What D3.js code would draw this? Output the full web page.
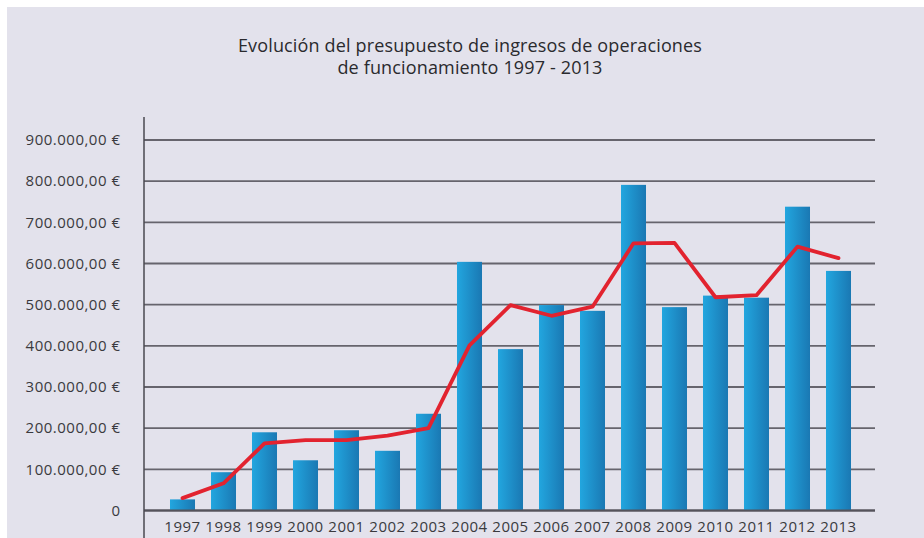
<!DOCTYPE html>
<html>
<head>
<meta charset="utf-8">
<script src="https://cdn.jsdelivr.net/npm/d3@7/dist/d3.min.js"></script>
<style>
  html, body { margin: 0; padding: 0; background: #ffffff; }
  svg { display: block; }
</style>
</head>
<body>
<svg id="chart" width="924" height="538"></svg>
<script>
const years = ["1997","1998","1999","2000","2001","2002","2003","2004","2005","2006","2007","2008","2009","2010","2011","2012","2013"];
const barValues = [27000, 93000, 190000, 122000, 195000, 145000, 235000, 604000, 392000, 499000, 485000, 791000, 494000, 522000, 517000, 738000, 582000];
const lineValues = [30000, 66000, 163000, 171000, 171000, 182000, 200000, 401000, 499000, 473000, 495000, 649000, 650000, 518000, 523000, 641000, 613000];
const yTicks = [0, 100000, 200000, 300000, 400000, 500000, 600000, 700000, 800000, 900000];
const titleLines = ["Evolución del presupuesto de ingresos de operaciones", "de funcionamiento 1997 - 2013"];

const svg = d3.select("#chart");
const W = 924, H = 538;
const FONT = "'Open Sans', Lato, sans-serif";

// panel background
svg.append("rect").attr("x", 7).attr("y", 7).attr("width", W - 7).attr("height", H - 7).attr("fill", "#e3e2ec");

const defs = svg.append("defs");
const grad = defs.append("linearGradient").attr("id", "barGrad").attr("x1", "0%").attr("x2", "100%").attr("y1", "0%").attr("y2", "0%");
grad.append("stop").attr("offset", "0%").attr("stop-color", "#22a6df");
grad.append("stop").attr("offset", "100%").attr("stop-color", "#1a78b3");

const axisX = 144;
const gridRight = 875;
const y = d3.scaleLinear().domain([0, 900000]).range([510.5, 140]);
const x = d3.scaleBand().domain(years).range([162, 859]).paddingInner(0.39).paddingOuter(0.195);

// gridlines
svg.append("g").selectAll("line").data(yTicks).join("line")
  .attr("x1", axisX).attr("x2", gridRight)
  .attr("y1", d => y(d)).attr("y2", d => y(d))
  .attr("stroke", "#66646d").attr("stroke-width", 1.8);

// y labels
const fmt = d => d === 0 ? "0" : d3.format(",.2f")(d).replace(/,/g, "#").replace(/\./g, ",").replace(/#/g, ".") + " €";
svg.append("g").selectAll("text").data(yTicks).join("text")
  .attr("x", 120.5).attr("y", d => y(d)).attr("dy", "0.35em")
  .attr("text-anchor", "end")
  .attr("font-family", FONT).attr("font-size", 15).attr("letter-spacing", 0.5)
  .attr("fill", "#3a3a3e")
  .text(fmt);

// bars
svg.append("g").selectAll("rect").data(years).join("rect")
  .attr("x", d => x(d)).attr("width", x.bandwidth())
  .attr("y", (d, i) => y(barValues[i]))
  .attr("height", (d, i) => y(0) - y(barValues[i]))
  .attr("fill", "url(#barGrad)");

// redraw zero line over bars
svg.append("line").attr("x1", axisX).attr("x2", gridRight).attr("y1", y(0)).attr("y2", y(0))
  .attr("stroke", "#55535b").attr("stroke-width", 1.8);

// vertical axis
svg.append("line").attr("x1", axisX).attr("x2", axisX).attr("y1", 117).attr("y2", 538)
  .attr("stroke", "#4a4850").attr("stroke-width", 1.5);

// line
const line = d3.line().x((d, i) => x(years[i]) + x.bandwidth() / 2).y(d => y(d));
svg.append("path").datum(lineValues).attr("d", line)
  .attr("fill", "none").attr("stroke", "#e2232f").attr("stroke-width", 3.8)
  .attr("stroke-linejoin", "round").attr("stroke-linecap", "round");

// x labels
svg.append("g").selectAll("text").data(years).join("text")
  .attr("x", d => x(d) + x.bandwidth() / 2).attr("y", 532)
  .attr("text-anchor", "middle")
  .attr("font-family", FONT).attr("font-size", 15).attr("letter-spacing", 0.5)
  .attr("fill", "#3a3a3e")
  .text(d => d);

// title
svg.append("g").selectAll("text").data(titleLines).join("text")
  .attr("x", 470).attr("y", (d, i) => 52 + i * 22)
  .attr("text-anchor", "middle")
  .attr("font-family", FONT).attr("font-size", 18).attr("letter-spacing", 0.15)
  .attr("fill", "#2a2a2e")
  .text(d => d);
</script>
</body>
</html>
